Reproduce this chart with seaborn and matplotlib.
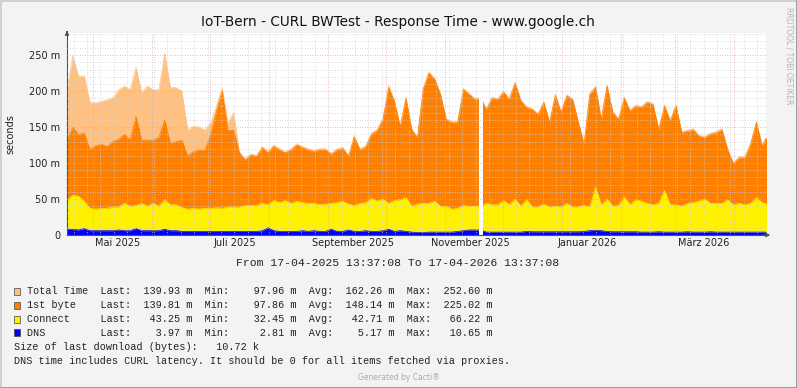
"""Cacti / RRDtool graph: IoT-Bern CURL BWTest response time over one year."""

import matplotlib
matplotlib.use("Agg")

import matplotlib.dates as mdates
import matplotlib.pyplot as plt
import pandas as pd
import seaborn as sns
from matplotlib.lines import Line2D
from matplotlib.patches import Rectangle
from matplotlib.ticker import MultipleLocator

START = "2025-04-17 13:37:08"
END = "2026-04-17 13:37:08"
STEP = "3D"

# response times in ms, one reading every 3 days
total_time = [
    202, 249, 221, 221, 184, 184, 186, 188, 191, 202,
    207, 202, 233, 198, 207, 202, 202, 252.6, 205, 205,
    200, 146, 151, 150, 146, 156, 179, 205, 156, 170,
    116, 106, 113, 111, 123, 116, 125, 120, 116, 120,
    127, 123, 120, 118, 120, 120, 114, 120, 122, 111,
    138, 120, 124, 142, 147, 162, 208, 187, 152, 192,
    148, 137, 204, 227, 218, 197, 162, 158, 158, 204,
    197, 190, 192, 176, 192, 190, 200, 190, 213, 188,
    179, 176, 169, 186, 158, 196, 172, 195, 190, 158,
    128, 197, 207, 162, 209, 172, 162, 192, 174, 181,
    179, 186, 183, 148, 181, 160, 181, 144, 146, 148,
    139, 137, 142, 144, 148, 120, 100, 109, 109, 128,
    158, 125, 140,
]
first_byte = [
    132, 150, 140, 142, 119, 124, 126, 123, 130, 133,
    140, 132, 165, 132, 132, 132, 136, 160, 128, 130,
    132, 110, 116, 118, 118, 140, 172, 200, 145, 146,
    114, 104, 111, 109, 121, 114, 123, 118, 114, 118,
    125, 121, 118, 116, 118, 118, 112, 118, 120, 109,
    136, 118, 122, 140, 145, 160, 205, 185, 150, 190,
    146, 135, 202, 225, 216, 195, 160, 156, 156, 202,
    195, 188, 190, 174, 190, 188, 198, 188, 211, 186,
    177, 174, 167, 184, 156, 194, 170, 193, 188, 156,
    126, 195, 205, 160, 207, 170, 160, 190, 172, 179,
    177, 184, 181, 146, 179, 158, 179, 142, 144, 146,
    137, 135, 140, 142, 146, 118, 99, 107, 107, 126,
    156, 123, 140,
]
connect = [
    49, 55, 54, 47, 37, 36, 37, 37, 39, 39,
    44, 40, 41, 44, 40, 44, 40, 49, 42, 42,
    38, 36, 37, 36, 37, 37, 38, 37, 39, 39,
    39, 41, 41, 41, 44, 42, 48, 45, 48, 44,
    47, 45, 44, 44, 42, 43, 44, 45, 47, 43,
    41, 44, 45, 51, 47, 50, 44, 48, 49, 52,
    40, 43, 44, 44, 47, 40, 40, 36, 37, 41,
    40, 40, 39, 44, 42, 42, 48, 42, 50, 40,
    49, 39, 39, 43, 39, 40, 39, 44, 39, 39,
    41, 39, 66, 42, 50, 40, 41, 53, 42, 49,
    47, 44, 42, 44, 62, 42, 42, 40, 44, 45,
    47, 50, 44, 44, 44, 49, 42, 44, 42, 44,
    52, 45, 43,
]
dns = [
    8, 8, 7, 9, 6, 6, 6, 6, 6, 7,
    6, 6, 9, 6, 6, 6, 6, 8, 6, 6,
    5, 5, 5, 5, 5, 5, 5, 5, 5, 5,
    5, 5, 5, 5, 6, 10, 6, 5, 5, 5,
    5, 6, 5, 6, 5, 5, 8, 5, 5, 7,
    5, 5, 6, 5, 5, 6, 8, 5, 6, 5,
    4, 3.5, 3.5, 4, 4, 4, 4, 4, 5, 6,
    7, 7, 7, 4, 4, 4, 4, 4, 4, 4,
    5, 4.5, 4.5, 4.5, 4.5, 4.5, 4.5, 4.5, 4.5, 4.5,
    5, 6, 6.5, 6, 5, 4.5, 4.5, 4.5, 4.5, 4.5,
    4, 4, 4, 4.5, 4, 4, 4, 4, 4.5, 4,
    4, 4, 4.5, 4, 4, 4, 4, 4, 4, 4,
    4, 4, 4,
]

# no samples at all during this outage
gap = ("2025-11-18 20:00", "2025-11-20 14:00")

y_ticks = [0, 50, 100, 150, 200, 250]
y_labels = ["0", "50 m", "100 m", "150 m", "200 m", "250 m"]
x_label_dates = ["2025-05-14", "2025-07-14", "2025-09-14",
                 "2025-11-14", "2026-01-14", "2026-03-16"]
x_labels = ["Mai 2025", "Juli 2025", "September 2025",
            "November 2025", "Januar 2026", "März 2026"]

series = ["Total Time", "1st byte", "Connect", "DNS"]
colors = ["#FFC080", "#FF7F00", "#FFF200", "#0000FF"]
stat_last = [139.93, 139.81, 43.25, 3.97]
stat_min = [97.96, 97.86, 32.45, 2.81]
stat_avg = [162.26, 148.14, 42.71, 5.17]
stat_max = [252.60, 225.02, 66.22, 10.65]
last_download = "10.72 k"

W, H = 797, 388
BG = "#F3F3F3"
AXIS = "#3C5A50"
MONO = ["Liberation Mono", "DejaVu Sans Mono"]

sns.set_theme(style="white")
plt.rcParams["font.family"] = ["DejaVu Sans"]

times = pd.date_range(START, periods=len(first_byte), freq=STEP)
df = pd.DataFrame({"time": times, "Total Time": total_time, "1st byte": first_byte,
                   "Connect": connect, "DNS": dns})

fig = plt.figure(figsize=(W / 100, H / 100), dpi=100, facecolor=BG)
ax = fig.add_axes([67 / W, 1 - 235 / H, 699 / W, 202 / H])
ax.set_facecolor("white")

# RRDtool AREAs: drawn one over the other, not stacked
for i, (name, color) in enumerate(zip(series, colors)):
    ax.fill_between(df["time"], 0, df[name], color=color, lw=0, zorder=1 + i * 0.1)
    sns.lineplot(data=df, x="time", y=name, ax=ax, color=color, lw=0.5,
                 zorder=1.05 + i * 0.1)
ax.axvspan(pd.Timestamp(gap[0]), pd.Timestamp(gap[1]), color="white", lw=0, zorder=2)

ax.set_xlim(pd.Timestamp(START), pd.Timestamp(END))
ax.set_ylim(0, 281)
ax.set_xlabel("")
ax.set_ylabel("")

# grid over the data, like rrdtool
ax.xaxis.set_major_locator(mdates.MonthLocator())
ax.xaxis.set_minor_locator(mdates.WeekdayLocator(byweekday=mdates.MO))
ax.set_xticklabels([])
ax.set_yticks(y_ticks, y_labels)
ax.yaxis.set_minor_locator(MultipleLocator(10))
ax.set_axisbelow(False)
ax.grid(which="major", color="#E4A4A4", lw=0.6, ls=(0, (1, 2)))
ax.grid(which="minor", color="#D0D0D0", lw=0.6, ls=(0, (1, 2)))
ax.tick_params(axis="both", which="both", direction="out", color=AXIS, width=0.6,
               labelsize=7, labelcolor="#222222")
ax.tick_params(which="major", length=3, pad=2)
ax.tick_params(which="minor", length=2)

for d, lab in zip(x_label_dates, x_labels):
    ax.text(pd.Timestamp(d), -8 / 202, lab, transform=ax.get_xaxis_transform(),
            ha="center", va="center", fontsize=7, color="#222222")

for s in ["top", "right"]:
    ax.spines[s].set_visible(False)
for s in ["left", "bottom"]:
    ax.spines[s].set_color(AXIS)
    ax.spines[s].set_linewidth(0.8)
arrow = dict(arrowstyle="-|>", color=AXIS, lw=0.8, mutation_scale=6)
ax.annotate("", xy=(1.010, 0), xytext=(0.99, 0), xycoords="axes fraction",
            arrowprops=arrow, annotation_clip=False)
ax.annotate("", xy=(0, 1.025), xytext=(0, 0.99), xycoords="axes fraction",
            arrowprops=arrow, annotation_clip=False)

fig.text(398 / W, 1 - 22 / H, "IoT-Bern - CURL BWTest - Response Time - www.google.ch",
         ha="center", va="center", fontsize=9.8, color="#111111")
fig.text(10 / W, 1 - 134 / H, "seconds", rotation=90, ha="center", va="center",
         fontsize=7, color="#222222")
fig.text(789 / W, 1 - 56 / H, "RRDTOOL / TOBI OETIKER", rotation=270, ha="center",
         va="center", fontsize=5.5, color="#B4B4B4")
fig.text(397.5 / W, 1 - 262.7 / H, "From 17-04-2025 13:37:08 To 17-04-2026 13:37:08",
         family=MONO, fontsize=8.2, ha="center", va="center", color="#222222")

# legend block
rows = [291, 305, 319, 332.7]
for y, name, color, la, mn, av, mx in zip(rows, series, colors, stat_last, stat_min,
                                         stat_avg, stat_max):
    fig.add_artist(Rectangle((14 / W, 1 - (y + 3.5) / H), 6 / W, 7 / H,
                             transform=fig.transFigure, fc=color, ec="#444444", lw=0.5))
    line = (f"{name:<10}  Last:{la:>8.2f} m  Min:{mn:>9.2f} m  "
            f"Avg:{av:>8.2f} m  Max:{mx:>8.2f} m")
    fig.text(27 / W, 1 - y / H, line, family=MONO, fontsize=7.3, va="center",
             color="#222222")
fig.text(14 / W, 1 - 347 / H, f"Size of last download (bytes):   {last_download}",
         family=MONO, fontsize=7.3, va="center", color="#222222")
fig.text(14 / W, 1 - 360.7 / H,
         "DNS time includes CURL latency. It should be 0 for all items fetched via proxies.",
         family=MONO, fontsize=7.3, va="center", color="#222222")
fig.text(398.5 / W, 1 - 377 / H, "Generated by Cacti®", ha="center", va="center",
         fontsize=5.5, color="#ABABAB")

# 3d-ish frame
for xs, ys, c in [([0, 1], [1, 1], "#D0D0D0"), ([0, 0], [0, 1], "#D0D0D0"),
                  ([0, 1], [0, 0], "#9A9A9A"), ([1, 1], [0, 1], "#9A9A9A")]:
    fig.add_artist(Line2D([x * (W - 1) / W + 0.5 / W for x in xs],
                          [y * (H - 1) / H + 0.5 / H for y in ys],
                          transform=fig.transFigure, color=c, lw=1.4))

fig.savefig("out.png", dpi=100, facecolor=BG)
